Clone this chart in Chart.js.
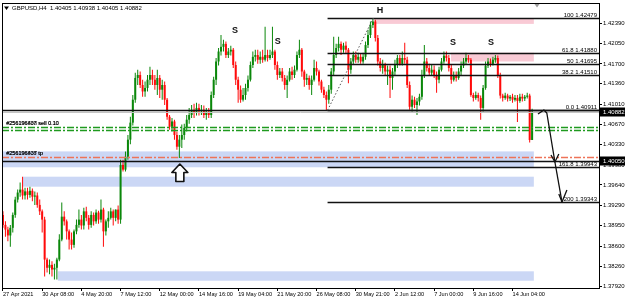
<!DOCTYPE html>
<html>
<head>
<meta charset="utf-8">
<title>GBPUSD,H4</title>
<script src="https://cdn.jsdelivr.net/npm/chart.js@4.4.1/dist/chart.umd.min.js"></script>
<style>
  html, body { margin: 0; padding: 0; background: #fff; }
  #chart { display: block; }
</style>
</head>
<body>
<canvas id="chart" width="625" height="301" style="width:625px;height:301px"></canvas>
<script>
// ---- price data (H4 bars) ----
const opens = [
  1.3913,1.3896,1.3888,1.3878,1.3891,1.3913,1.3939,1.3951,1.3956,1.3946,
  1.3953,1.3947,1.3954,1.3944,1.3946,1.3930,1.3919,1.3905,1.3837,1.3823,
  1.3828,1.3820,1.3823,1.3837,1.3871,1.3910,1.3902,1.3885,1.3871,1.3862,
  1.3885,1.3896,1.3905,1.3895,1.3919,1.3908,1.3896,1.3913,1.3902,1.3917,
  1.3905,1.3922,1.3885,1.3902,1.3908,1.3919,1.3908,1.3922,1.3905,1.3998,
  1.3990,1.4012,1.4041,1.4070,1.4109,1.4146,1.4151,1.4134,1.4123,1.4129,
  1.4143,1.4151,1.4143,1.4134,1.4146,1.4126,1.4134,1.4109,1.4080,1.4063,
  1.4072,1.4049,1.4029,1.4041,1.4049,1.4061,1.4075,1.4083,1.4092,1.4087,
  1.4095,1.4089,1.4092,1.4083,1.4089,1.4083,1.4117,1.4143,1.4174,1.4191,
  1.4199,1.4204,1.4185,1.4191,1.4194,1.4168,1.4143,1.4126,1.4109,1.4117,
  1.4129,1.4143,1.4168,1.4182,1.4185,1.4177,1.4182,1.4177,1.4185,1.4180,
  1.4185,1.4191,1.4168,1.4151,1.4157,1.4146,1.4134,1.4143,1.4157,1.4151,
  1.4160,1.4185,1.4194,1.4157,1.4143,1.4146,1.4134,1.4143,1.4163,1.4157,
  1.4140,1.4126,1.4117,1.4109,1.4126,1.4157,1.4185,1.4197,1.4204,1.4194,
  1.4201,1.4194,1.4160,1.4174,1.4185,1.4177,1.4182,1.4174,1.4182,1.4202,
  1.4219,1.4236,1.4242,1.4214,1.4174,1.4163,1.4168,1.4157,1.4160,1.4146,
  1.4157,1.4168,1.4180,1.4170,1.4180,1.4177,1.4134,1.4097,1.4109,1.4100,
  1.4106,1.4114,1.4151,1.4174,1.4163,1.4155,1.4160,1.4151,1.4143,1.4160,
  1.4174,1.4184,1.4180,1.4163,1.4143,1.4150,1.4146,1.4157,1.4167,1.4174,
  1.4180,1.4177,1.4117,1.4112,1.4117,1.4112,1.4095,1.4129,1.4167,1.4174,
  1.4170,1.4177,1.4180,1.4151,1.4116,1.4112,1.4116,1.4111,1.4114,1.4109,
  1.4112,1.4107,1.4114,1.4111,1.4114,1.4116,1.40405
];
const highs = [
  1.3919,1.3902,1.3893,1.3896,1.3917,1.3944,1.3956,1.3968,1.3978,1.3959,
  1.3959,1.3961,1.3958,1.3953,1.3951,1.3939,1.3922,1.3910,1.3840,1.3837,
  1.3834,1.3830,1.3840,1.3880,1.3934,1.3919,1.3905,1.3888,1.3883,1.3888,
  1.3905,1.3922,1.3913,1.3925,1.3927,1.3913,1.3919,1.3917,1.3922,1.3920,
  1.3939,1.3925,1.3905,1.3919,1.3925,1.3922,1.3922,1.3929,1.4007,1.4007,
  1.4021,1.4049,1.4080,1.4117,1.4155,1.4160,1.4157,1.4143,1.4140,1.4151,
  1.4165,1.4160,1.4151,1.4160,1.4151,1.4143,1.4140,1.4112,1.4083,1.4078,
  1.4075,1.4055,1.4049,1.4067,1.4068,1.4083,1.4095,1.4100,1.4102,1.4104,
  1.4102,1.4100,1.4099,1.4095,1.4095,1.4123,1.4148,1.4180,1.4197,1.4219,
  1.4211,1.4208,1.4197,1.4201,1.4197,1.4174,1.4148,1.4133,1.4129,1.4136,
  1.4150,1.4174,1.4191,1.4194,1.4194,1.4191,1.4194,1.4233,1.4194,1.4194,
  1.4233,1.4194,1.4174,1.4163,1.4163,1.4151,1.4150,1.4163,1.4165,1.4167,
  1.4191,1.4211,1.4197,1.4160,1.4153,1.4150,1.4150,1.4177,1.4174,1.4160,
  1.4143,1.4131,1.4123,1.4134,1.4163,1.4216,1.4204,1.4216,1.4208,1.4206,
  1.4208,1.4197,1.4180,1.4191,1.4191,1.4189,1.4187,1.4189,1.4208,1.4228,
  1.4242,1.42479,1.4245,1.4219,1.4180,1.4177,1.4172,1.4167,1.4167,1.4163,
  1.4177,1.4185,1.4185,1.4191,1.4206,1.4182,1.4140,1.4116,1.4114,1.4112,
  1.4119,1.4160,1.4202,1.4180,1.4170,1.4168,1.4167,1.4157,1.4165,1.4180,
  1.4191,1.4191,1.4185,1.4168,1.4157,1.4157,1.4163,1.4174,1.4180,1.4189,
  1.4185,1.4180,1.4121,1.4123,1.4121,1.4116,1.4134,1.4174,1.4180,1.4179,
  1.4182,1.4185,1.4184,1.4155,1.4119,1.4121,1.4119,1.4117,1.4119,1.4117,
  1.4117,1.4119,1.4119,1.4117,1.4121,1.4119,1.40938
];
const lows = [
  1.3891,1.3876,1.3868,1.3859,1.3883,1.3908,1.3934,1.3944,1.3939,1.3939,
  1.3939,1.3942,1.3936,1.3930,1.3925,1.3913,1.3883,1.3808,1.3815,1.3812,
  1.3808,1.3803,1.3803,1.3834,1.3868,1.3895,1.3871,1.3854,1.3854,1.3857,
  1.3880,1.3891,1.3888,1.3888,1.3902,1.3888,1.3891,1.3895,1.3898,1.3898,
  1.3900,1.3859,1.3878,1.3891,1.3905,1.3895,1.3902,1.3898,1.3898,1.3987,
  1.3987,1.4007,1.4033,1.4065,1.4104,1.4134,1.4129,1.4114,1.4114,1.4123,
  1.4134,1.4134,1.4126,1.4117,1.4112,1.4109,1.4100,1.4075,1.4058,1.4055,
  1.4041,1.4024,1.4010,1.4027,1.4041,1.4055,1.4068,1.4078,1.4078,1.4082,
  1.4082,1.4083,1.4078,1.4075,1.4078,1.4078,1.4112,1.4134,1.4167,1.4184,
  1.4191,1.4180,1.4180,1.4184,1.4163,1.4134,1.4104,1.4104,1.4106,1.4109,
  1.4123,1.4140,1.4163,1.4174,1.4170,1.4170,1.4172,1.4174,1.4174,1.4177,
  1.4180,1.4160,1.4143,1.4146,1.4140,1.4126,1.4112,1.4140,1.4143,1.4146,
  1.4157,1.4180,1.4148,1.4131,1.4134,1.4126,1.4117,1.4140,1.4150,1.4133,
  1.4121,1.4112,1.40911,1.4102,1.4119,1.4151,1.4180,1.4191,1.4185,1.4189,
  1.4187,1.4137,1.4153,1.4168,1.4172,1.4172,1.4170,1.4170,1.4177,1.4197,
  1.4214,1.4231,1.4208,1.4167,1.4157,1.4153,1.4150,1.4134,1.4112,1.4126,
  1.4150,1.4163,1.4167,1.4167,1.4170,1.4129,1.4092,1.4089,1.4095,1.4083,
  1.4099,1.4109,1.4146,1.4157,1.4150,1.4150,1.4146,1.4121,1.4137,1.4157,
  1.4170,1.4174,1.4157,1.4136,1.4140,1.4140,1.4143,1.4151,1.4163,1.4168,
  1.4172,1.4114,1.4106,1.4109,1.4106,1.4075,1.4089,1.4126,1.4163,1.4165,
  1.4167,1.4172,1.4146,1.4111,1.4106,1.4109,1.4106,1.4107,1.4104,1.4106,
  1.4071,1.4104,1.4106,1.4107,1.4111,1.4036,1.40405
];
const closes = [
  1.3896,1.3888,1.3878,1.3891,1.3913,1.3939,1.3951,1.3956,1.3946,1.3953,
  1.3947,1.3954,1.3944,1.3946,1.3930,1.3919,1.3905,1.3837,1.3823,1.3828,
  1.3820,1.3823,1.3837,1.3871,1.3910,1.3902,1.3885,1.3871,1.3862,1.3885,
  1.3896,1.3905,1.3895,1.3919,1.3908,1.3896,1.3913,1.3902,1.3917,1.3905,
  1.3922,1.3885,1.3902,1.3908,1.3919,1.3908,1.3922,1.3905,1.3998,1.3990,
  1.4012,1.4041,1.4070,1.4109,1.4146,1.4151,1.4134,1.4123,1.4129,1.4143,
  1.4151,1.4143,1.4134,1.4146,1.4126,1.4134,1.4109,1.4080,1.4063,1.4072,
  1.4049,1.4029,1.4041,1.4049,1.4061,1.4075,1.4083,1.4092,1.4087,1.4095,
  1.4089,1.4092,1.4083,1.4089,1.4083,1.4117,1.4143,1.4174,1.4191,1.4199,
  1.4204,1.4185,1.4191,1.4194,1.4168,1.4143,1.4126,1.4109,1.4117,1.4129,
  1.4143,1.4168,1.4182,1.4185,1.4177,1.4182,1.4177,1.4185,1.4180,1.4185,
  1.4191,1.4168,1.4151,1.4157,1.4146,1.4134,1.4143,1.4157,1.4151,1.4160,
  1.4185,1.4194,1.4157,1.4143,1.4146,1.4134,1.4143,1.4163,1.4157,1.4140,
  1.4126,1.4117,1.4109,1.4126,1.4157,1.4185,1.4197,1.4204,1.4194,1.4201,
  1.4194,1.4160,1.4174,1.4185,1.4177,1.4182,1.4174,1.4182,1.4202,1.4219,
  1.4236,1.4242,1.4214,1.4174,1.4163,1.4168,1.4157,1.4160,1.4146,1.4157,
  1.4168,1.4180,1.4170,1.4180,1.4177,1.4134,1.4097,1.4109,1.4100,1.4106,
  1.4114,1.4151,1.4174,1.4163,1.4155,1.4160,1.4151,1.4143,1.4160,1.4174,
  1.4184,1.4180,1.4163,1.4143,1.4150,1.4146,1.4157,1.4167,1.4174,1.4180,
  1.4177,1.4117,1.4112,1.4117,1.4112,1.4095,1.4129,1.4167,1.4174,1.4170,
  1.4177,1.4180,1.4151,1.4116,1.4112,1.4116,1.4111,1.4114,1.4109,1.4112,
  1.4107,1.4114,1.4111,1.4114,1.4116,1.40405,1.40882
];

// axis ticks
const xTickIdx = [0, 16, 32, 48, 64, 80, 96, 112, 128, 144, 160, 176, 192, 208];
const xTickLabels = ['27 Apr 2021', '30 Apr 08:00', '4 May 20:00', '7 May 12:00', '12 May 00:00',
  '14 May 16:00', '19 May 04:00', '21 May 20:00', '26 May 08:00', '30 May 21:00',
  '2 Jun 12:00', '7 Jun 00:00', '9 Jun 16:00', '14 Jun 04:00'];
const yTickVals = [1.42390, 1.42050, 1.41700, 1.41360, 1.41010, 1.40670, 1.40330,
  1.39980, 1.39640, 1.39290, 1.38950, 1.38600, 1.38260, 1.37920];

// objects drawn on the chart (bar index / price)
const fibLevels = ['100', '61.8', '50', '38.2', '0.0', '161.8', '200'];
const fibPrices = [1.42479, 1.41880, 1.41695, 1.41510, 1.40911, 1.39943, 1.39343];
const fullLines = [1.40911, 1.40050];
const bidPrice = 1.40882;
const sellLines = [1.4063, 1.4058];
const tpLines = [1.4012];
const blueZones = [[-1, 216.7, 1.4021, 1.3994], [8.2, 216.7, 1.3978, 1.3961], [22.4, 216.7, 1.3817, 1.3801]];
const pinkZones = [[151.4, 216.7, 1.42479, 1.4238], [182.9, 216.7, 1.4189, 1.4174]];
const fibAnchor = [[132.5, 1.40911], [151.2, 1.42479]];
const shoulderMarks = [['S', 94.7, 1.42259], ['S', 112.2, 1.42072], ['H', 153.9, 1.42600], ['S', 183.7, 1.42055], ['S', 199.2, 1.42055]];
const arrowPathA = [[218.4, 1.40847], [220.8, 1.40915], [222.0, 1.40864], [225.3, 1.40030]];
const arrowHeadA = [[223.7, 1.40149], [225.3, 1.40030], [226.9, 1.40166]];
const arrowPathB = [[225.3, 1.40030], [228.2, 1.39349]];
const arrowHeadB = [[226.9, 1.39485], [228.2, 1.39349], [230.2, 1.39554]];
const upArrowAt = [72.2, 1.39996];
const axisMarks = [1.40882, 1.40050];

const UP = '#0a870a';
const DOWN = '#ff0a0a';
const FONT = '"Liberation Sans", Arial, sans-serif';

function candleColor(ctx) {
    const i = ctx.dataIndex;
    return closes[i] >= opens[i] ? UP : DOWN;
}

const overlay = {
    id: 'overlay',
    beforeDatasetsDraw(chart) {
        const { ctx, chartArea: a, scales: { x, y } } = chart;
        ctx.save();
        ctx.beginPath();
        ctx.rect(a.left, a.top, a.right - a.left, a.bottom - a.top);
        ctx.clip();
        const zone = (z, color) => {
            const x0 = Math.max(x.getPixelForValue(z[0]), a.left);
            const x1 = x.getPixelForValue(z[1]);
            const y0 = y.getPixelForValue(z[2]);
            const y1 = y.getPixelForValue(z[3]);
            ctx.fillStyle = color;
            ctx.fillRect(x0, y0, x1 - x0, y1 - y0);
        };
        blueZones.forEach(z => zone(z, '#cbd7f5'));
        pinkZones.forEach(z => zone(z, '#f9cad5'));
        ctx.restore();
    },
    afterDatasetsDraw(chart) {
        const { ctx, chartArea: a, scales: { x, y } } = chart;
        const px = v => x.getPixelForValue(v);
        const py = v => y.getPixelForValue(v);
        ctx.save();
        ctx.beginPath();
        ctx.rect(a.left, a.top, a.right - a.left, a.bottom - a.top);
        ctx.clip();

        const hline = (p, x0, x1, color, width, dash) => {
            const yy = Math.round(py(p)) + 0.5;
            ctx.beginPath();
            ctx.setLineDash(dash || []);
            ctx.strokeStyle = color;
            ctx.lineWidth = width;
            ctx.moveTo(x0, yy);
            ctx.lineTo(x1, yy);
            ctx.stroke();
        };

        // order lines
        sellLines.forEach(p => hline(p, a.left, a.right, '#1f9a1f', 1.6, [7, 2, 2, 2]));
        tpLines.forEach(p => hline(p, a.left, a.right, '#ee7358', 1.3, [7, 2, 2, 2]));
        hline(bidPrice, a.left, a.right, '#c4c4c4', 1);
        fullLines.forEach(p => hline(p, a.left, a.right, '#111', 1.4));

        // fibonacci
        const fx0 = px(fibAnchor[0][0]);
        fibPrices.forEach(p => hline(p, fx0, a.right, '#111', 1.4));
        ctx.setLineDash([1.5, 2]);
        ctx.strokeStyle = '#555';
        ctx.lineWidth = 1;
        ctx.beginPath();
        ctx.moveTo(px(fibAnchor[0][0]), py(fibAnchor[0][1]));
        ctx.lineTo(px(fibAnchor[1][0]), py(fibAnchor[1][1]));
        ctx.stroke();
        ctx.setLineDash([]);

        ctx.fillStyle = '#000';
        ctx.font = '6px ' + FONT;
        ctx.textAlign = 'right';
        ctx.textBaseline = 'alphabetic';
        fibPrices.forEach((p, k) => {
            ctx.fillText(fibLevels[k] + ' ' + p.toFixed(5), a.right - 2, Math.round(py(p)) - 1.5);
        });

        // hand drawn arrows
        const poly = pts => {
            ctx.beginPath();
            pts.forEach((q, k) => {
                const fn = k ? 'lineTo' : 'moveTo';
                ctx[fn](px(q[0]), py(q[1]));
            });
            ctx.stroke();
        };
        ctx.strokeStyle = '#111';
        ctx.lineWidth = 1.3;
        ctx.lineJoin = 'round';
        [arrowPathA, arrowHeadA, arrowPathB, arrowHeadB].forEach(poly);

        // hollow up arrow at the low
        const cx = px(upArrowAt[0]);
        const ty = py(upArrowAt[1]);
        ctx.beginPath();
        ctx.moveTo(cx, ty);
        ctx.lineTo(cx + 8, ty + 8.5);
        ctx.lineTo(cx + 4, ty + 8.5);
        ctx.lineTo(cx + 4, ty + 17.5);
        ctx.lineTo(cx - 4, ty + 17.5);
        ctx.lineTo(cx - 4, ty + 8.5);
        ctx.lineTo(cx - 8, ty + 8.5);
        ctx.closePath();
        ctx.fillStyle = '#fff';
        ctx.fill();
        ctx.lineWidth = 1.6;
        ctx.stroke();

        // S / H marks
        ctx.font = 'bold 9px ' + FONT;
        ctx.textAlign = 'center';
        ctx.textBaseline = 'middle';
        ctx.fillStyle = '#111';
        shoulderMarks.forEach(m => ctx.fillText(m[0], px(m[1]), py(m[2])));

        // order comments, overlapping like the terminal does
        ctx.font = '5.5px ' + FONT;
        ctx.textAlign = 'left';
        ctx.fillStyle = '#000';
        ctx.fillText('#256196437 sell 0.10', a.left + 4, py(sellLines[0]) - 3.5);
        ctx.fillText('#256196808 sell 0.10', a.left + 4.4, py(sellLines[0]) - 3);
        ctx.fillText('#256196808 tp', a.left + 4, py(tpLines[0]) - 3.5);
        ctx.fillText('#256196437 tp', a.left + 4.4, py(tpLines[0]) - 3);

        // header
        ctx.font = '6px ' + FONT;
        ctx.fillText('GBPUSD,H4  1.40405 1.40938 1.40405 1.40882', a.left + 10, a.top + 5.5);
        ctx.beginPath();
        ctx.moveTo(a.left + 2, a.top + 3.5);
        ctx.lineTo(a.left + 7, a.top + 3.5);
        ctx.lineTo(a.left + 4.5, a.top + 7);
        ctx.closePath();
        ctx.fill();

        // chart shift marker
        ctx.fillStyle = '#9a9a9a';
        ctx.beginPath();
        ctx.moveTo(px(218) - 2.5, a.top + 1);
        ctx.lineTo(px(218) + 2.5, a.top + 1);
        ctx.lineTo(px(218), a.top + 4.5);
        ctx.closePath();
        ctx.fill();
        ctx.restore();
    },
    afterDraw(chart) {
        const { ctx, chartArea: a, scales: { y } } = chart;
        ctx.save();
        ctx.strokeStyle = '#000';
        ctx.lineWidth = 1;
        ctx.strokeRect(a.left + 0.5, a.top + 0.5, a.right - a.left, a.bottom - a.top);

        ctx.font = '6px ' + FONT;
        ctx.textAlign = 'left';
        ctx.textBaseline = 'middle';
        axisMarks.forEach(p => {
            const yy = Math.round(y.getPixelForValue(p));
            ctx.fillStyle = '#000';
            ctx.fillRect(a.right + 1, yy - 4.5, 26, 9);
            ctx.fillStyle = '#fff';
            ctx.fillText(p.toFixed(5), a.right + 4, yy + 0.5);
        });
        ctx.restore();
    }
};

const idx = closes.map((c, i) => i);

new Chart(document.getElementById('chart'), {
    type: 'bar',
    data: {
        datasets: [
            {
                label: 'wick',
                data: idx.map(i => ({ x: i, y: [lows[i], highs[i]] })),
                backgroundColor: candleColor,
                barThickness: 1,
                grouped: false,
                inflateAmount: 0,
                borderWidth: 0,
                order: 2
            },
            {
                label: 'body',
                data: idx.map(i => ({ x: i, y: [opens[i], closes[i]] })),
                backgroundColor: candleColor,
                barThickness: 2,
                minBarLength: 1,
                grouped: false,
                inflateAmount: 0,
                borderWidth: 0,
                order: 1
            }
        ]
    },
    options: {
        responsive: false,
        animation: false,
        events: [],
        layout: { padding: { left: 2, top: 3, right: 0, bottom: 0 } },
        plugins: { legend: { display: false }, tooltip: { enabled: false } },
        scales: {
            x: {
                type: 'linear',
                min: -0.4,
                max: 243.3,
                offset: false,
                grid: { display: true, drawOnChartArea: false, drawTicks: true, tickLength: 3, color: '#000', offset: false },
                border: { display: true, color: '#000', width: 1 },
                ticks: {
                    autoSkip: false,
                    maxRotation: 0,
                    align: 'start',
                    padding: 0,
                    color: '#000',
                    font: { family: FONT, size: 5.6 },
                    callback: (v, i) => xTickLabels[i]
                },
                afterBuildTicks: s => { s.ticks = xTickIdx.map(v => ({ value: v })); },
                afterFit: s => { s.height = 13; s.paddingLeft = 0; s.paddingRight = 0; }
            },
            y: {
                position: 'right',
                min: 1.37886,
                max: 1.427354,
                grid: { display: true, drawOnChartArea: false, drawTicks: true, tickLength: 3, color: '#000' },
                border: { display: true, color: '#000', width: 1 },
                ticks: {
                    autoSkip: false,
                    padding: 1,
                    color: '#000',
                    font: { family: FONT, size: 6 },
                    callback: v => v.toFixed(5)
                },
                afterBuildTicks: s => { s.ticks = yTickVals.map(v => ({ value: v })); },
                afterFit: s => { s.width = 26; s.paddingTop = 0; s.paddingBottom = 0; }
            }
        }
    },
    plugins: [overlay]
});
</script>
</body>
</html>
